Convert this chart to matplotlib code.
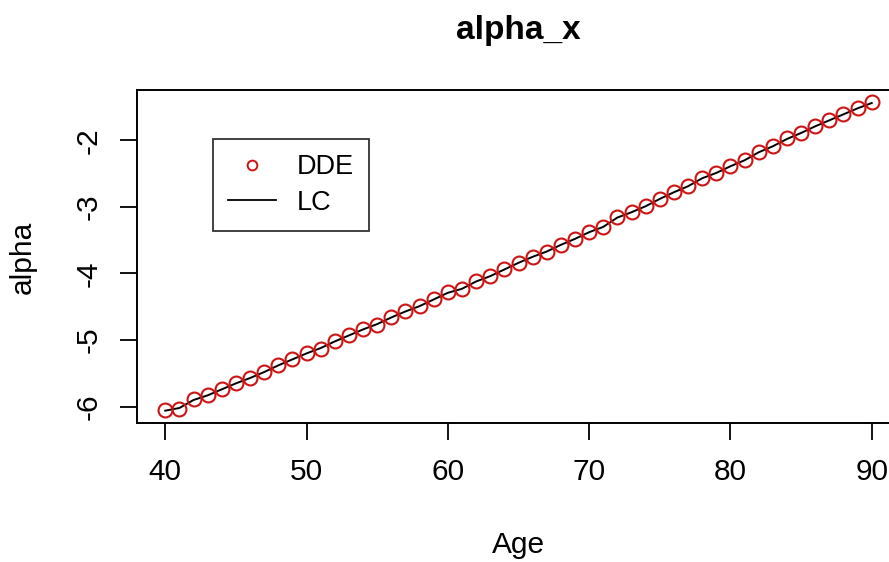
import matplotlib.pyplot as plt
import numpy as np

plt.rcParams['font.family'] = ['Liberation Sans', 'DejaVu Sans']
plt.rcParams['axes.unicode_minus'] = False

ages = np.arange(40, 91)

# alpha_x estimates
dde = [-6.05, -6.03, -5.89, -5.83, -5.74, -5.65, -5.57, -5.48, -5.38, -5.29,
       -5.19, -5.13, -5.02, -4.93, -4.84, -4.77, -4.66, -4.57, -4.49, -4.39,
       -4.28, -4.24, -4.12, -4.04, -3.93, -3.84, -3.75, -3.67, -3.57, -3.48,
       -3.37, -3.30, -3.15, -3.08, -2.99, -2.88, -2.78, -2.69, -2.56, -2.49,
       -2.39, -2.30, -2.17, -2.09, -1.97, -1.89, -1.79, -1.70, -1.60, -1.52,
       -1.43]
lc = [-6.06, -6.02, -5.90, -5.83, -5.74, -5.65, -5.57, -5.48, -5.38, -5.29,
      -5.20, -5.12, -5.02, -4.93, -4.84, -4.76, -4.66, -4.57, -4.49, -4.39,
      -4.29, -4.23, -4.12, -4.04, -3.94, -3.84, -3.75, -3.67, -3.57, -3.48,
      -3.38, -3.30, -3.16, -3.08, -2.99, -2.88, -2.78, -2.69, -2.57, -2.49,
      -2.39, -2.30, -2.18, -2.09, -1.98, -1.89, -1.79, -1.70, -1.61, -1.52,
      -1.44]

xticks = [40, 50, 60, 70, 80, 90]
yticks = [-6, -5, -4, -3, -2]

W, H = 889, 562
fig = plt.figure(figsize=(W / 100, H / 100), dpi=100)
# plot region runs past the right edge, like the cropped original
ax = fig.add_axes([137 / W, 1 - 423 / H, (900 - 137) / W, (423 - 90) / H])

ax.plot(ages, lc, color='black', linewidth=1.4, zorder=2)
ax.plot(ages, dde, linestyle='none', marker='o', markersize=10,
        markerfacecolor='none', markeredgecolor='#cc1414',
        markeredgewidth=1.5, zorder=3)

# R style 4% padding
xr = ages.max() - ages.min()
ax.set_xlim(ages.min() - 0.04 * xr, ages.max() + 0.04 * xr)
lo, hi = min(min(dde), min(lc)), max(max(dde), max(lc))
ax.set_ylim(lo - 0.04 * (hi - lo), hi + 0.04 * (hi - lo))

ax.set_xticks(xticks)
ax.set_yticks(yticks)
ax.set_yticklabels([str(v) for v in yticks])
ax.tick_params(direction='out', length=12.5, width=1.3, labelsize=21.5, colors='black')
ax.tick_params(axis='x', pad=13)
ax.tick_params(axis='y', pad=12)
plt.setp(ax.get_yticklabels(), rotation=90, va='center')
for s in ax.spines.values():
    s.set_linewidth(1.4)

fig.text(518 / W, 1 - 30 / H, 'alpha_x', ha='center', va='center',
         fontsize=24, fontweight='bold')
fig.text(518 / W, 1 - 545 / H, 'Age', ha='center', va='center', fontsize=21.5)
fig.text(23 / W, 1 - 257 / H, 'alpha', ha='center', va='center',
         fontsize=21.5, rotation=90)

h1 = plt.Line2D([], [], linestyle='none', marker='o', markersize=7,
                markerfacecolor='none', markeredgecolor='#cc1414', markeredgewidth=1.4)
h2 = plt.Line2D([], [], color='black', linewidth=1.3)
leg = ax.legend([h1, h2], ['DDE', 'LC'], loc='upper left',
                bbox_to_anchor=(212.7 / W, 1 - 139.3 / H), bbox_transform=fig.transFigure,
                fontsize=19.5, frameon=True, fancybox=False, edgecolor='black',
                borderpad=0.55, handlelength=1.77, handletextpad=0.78,
                labelspacing=0.35, borderaxespad=0)
leg.get_frame().set_linewidth(1.3)

plt.savefig('out.png', dpi=100)
